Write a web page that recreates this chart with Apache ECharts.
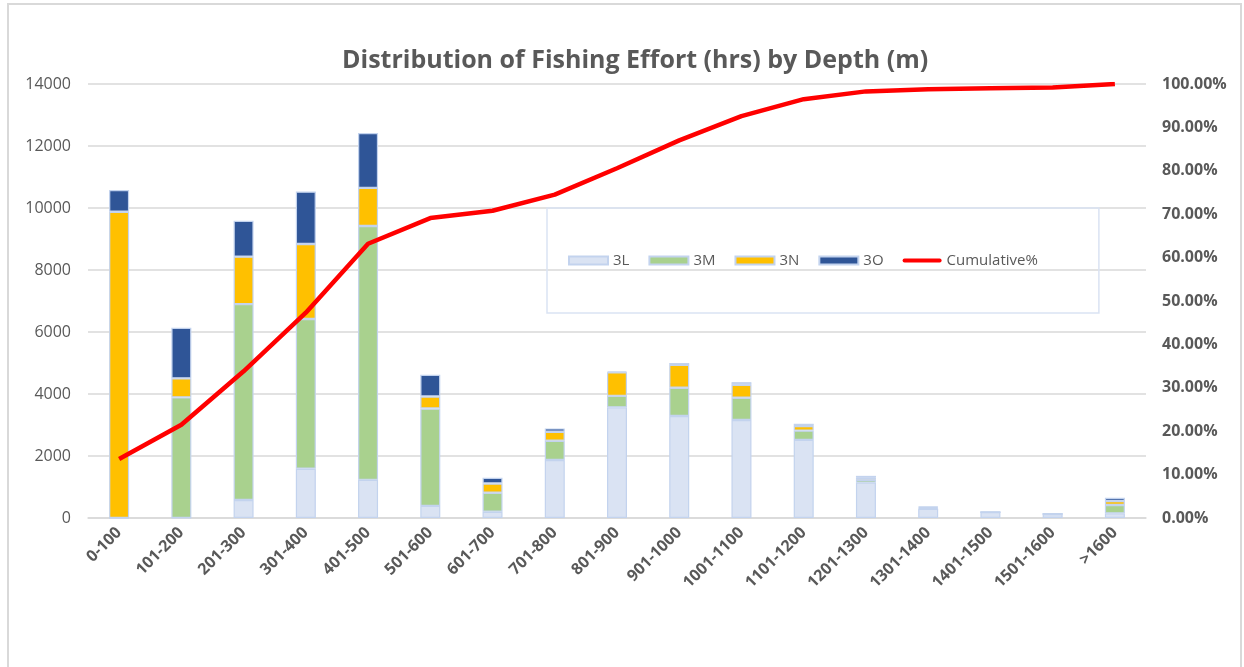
<!DOCTYPE html>
<html><head><meta charset="utf-8">
<script src="https://cdn.jsdelivr.net/npm/echarts@6/dist/echarts.min.js"></script>
<style>html,body{margin:0;padding:0;background:#fff}#c{width:1244px;height:667px}</style>
</head><body><div id="c"></div>
<script>
const categories = ['0-100','101-200','201-300','301-400','401-500','501-600','601-700','701-800','801-900','901-1000','1001-1100','1101-1200','1201-1300','1301-1400','1401-1500','1501-1600','>1600'];
const s3L = [0, 0, 580, 1590, 1230, 390, 200, 1870, 3570, 3290, 3160, 2520, 1140, 300, 190, 130, 150];
const s3M = [0, 3890, 6320, 4830, 8190, 3140, 615, 620, 370, 910, 720, 300, 90, 20, 0, 0, 270];
const s3N = [9880, 615, 1530, 2420, 1230, 390, 300, 290, 760, 740, 420, 150, 70, 30, 0, 0, 130];
const s3O = [700, 1630, 1160, 1690, 1770, 700, 185, 110, 30, 60, 80, 70, 60, 20, 0, 0, 100];
const cumulative = [13.6, 21.5, 33.8, 47.3, 63.2, 69.1, 70.8, 74.5, 80.6, 87.0, 92.6, 96.5, 98.3, 98.8, 99.0, 99.2, 100];
const leftTicks = {min: 0, max: 14000, interval: 2000};
const rightTicks = {min: 0, max: 100, interval: 10};

const chart = echarts.init(document.getElementById('c'));
const barBase = {type: 'bar', stack: 'total', barWidth: 20, yAxisIndex: 0};
const border = {borderColor: '#c3d3ee', borderWidth: 1.2};
chart.setOption({
  animation: false,
  textStyle: {fontFamily: 'Open Sans'},
  graphic: [{type: 'rect', shape: {x: 8, y: 4, width: 1233, height: 700}, style: {fill: 'none', stroke: '#d9d9d9', lineWidth: 2}, silent: true}],
  title: {text: 'Distribution of Fishing Effort (hrs) by Depth (m)', left: 337, top: 43,
    textStyle: {fontSize: 25, fontWeight: 'bold', color: '#595959', fontFamily: 'Open Sans'}},
  legend: {left: 547, top: 208, padding: [45, 61, 45, 21], borderColor: '#dae3f3', borderWidth: 1.5,
    itemWidth: 39, itemHeight: 8, itemGap: 19,
    textStyle: {fontSize: 15, color: '#595959'},
    data: [{name: '3L', icon: 'rect'}, {name: '3M', icon: 'rect'}, {name: '3N', icon: 'rect'}, {name: '3O', icon: 'rect'},
      {name: 'Cumulative%', icon: 'path://M2,0 L39,0 A2,2 0 0 1 39,4 L2,4 A2,2 0 0 1 2,0 Z', itemStyle: {color: '#ff0000', borderWidth: 0}}]},
  grid: {left: 88, right: 98, top: 84, bottom: 149},
  xAxis: {type: 'category', data: categories,
    axisLine: {lineStyle: {color: '#d9d9d9', width: 1.5}}, axisTick: {show: false},
    axisLabel: {rotate: 45, fontSize: 16, fontWeight: 'bold', color: '#595959', margin: 12, interval: 0}},
  yAxis: [
    {type: 'value', min: leftTicks.min, max: leftTicks.max, interval: leftTicks.interval,
      axisLabel: {fontSize: 16, color: '#595959', margin: 17, formatter: v => String(v)},
      splitLine: {lineStyle: {color: '#d9d9d9', width: 1.5}}, axisLine: {show: false}},
    {type: 'value', min: rightTicks.min, max: rightTicks.max, interval: rightTicks.interval,
      axisLabel: {fontSize: 16, fontWeight: 'bold', color: '#595959', margin: 16, formatter: v => v.toFixed(2) + '%'},
      splitLine: {show: false}, axisLine: {show: false}}
  ],
  series: [
    Object.assign({name: '3L', data: s3L, itemStyle: Object.assign({color: '#dae3f3'}, border)}, barBase),
    Object.assign({name: '3M', data: s3M, itemStyle: Object.assign({color: '#a9d18e'}, border)}, barBase),
    Object.assign({name: '3N', data: s3N, itemStyle: Object.assign({color: '#ffc000'}, border)}, barBase),
    Object.assign({name: '3O', data: s3O, itemStyle: Object.assign({color: '#2f5597'}, border)}, barBase),
    {name: 'Cumulative%', type: 'line', yAxisIndex: 1, data: cumulative, symbol: 'none',
      lineStyle: {color: '#ff0000', width: 4.5}, itemStyle: {color: '#ff0000'}, z: 5}
  ]
});
</script></body></html>
